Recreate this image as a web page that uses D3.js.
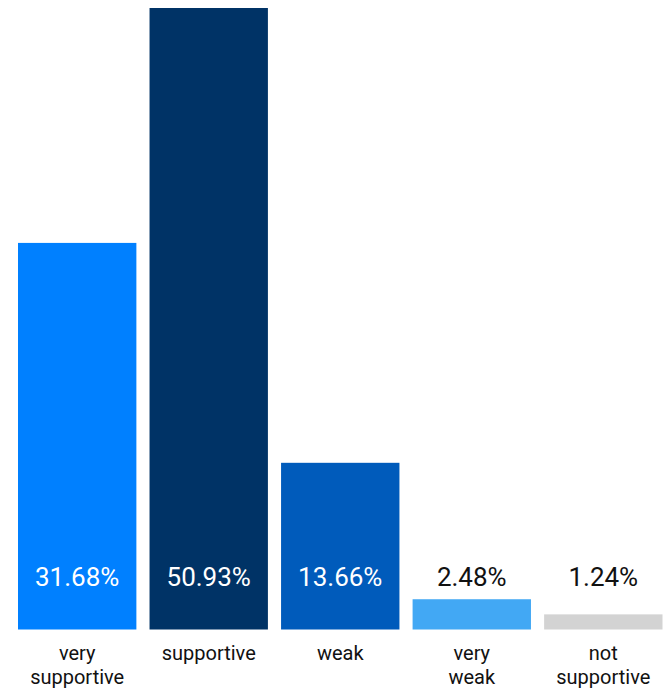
<!DOCTYPE html>
<html>
<head>
<meta charset="utf-8">
<script src="https://cdn.jsdelivr.net/npm/d3@7"></script>
<style>
  html, body { margin: 0; padding: 0; background: #fff; }
  svg { display: block; font-family: Roboto, "Noto Sans", sans-serif; }
</style>
</head>
<body>
<svg id="chart" width="664" height="688"></svg>
<script>
// Share of responses per rating
const categories = [["very", "supportive"], ["supportive"], ["weak"], ["very", "weak"], ["not", "supportive"]];
const values = [31.68, 50.93, 13.66, 2.48, 1.24];
const colors = ["#0080ff", "#003366", "#005bbb", "#42a8f4", "#d3d3d3"];
const labelColors = ["#ffffff", "#ffffff", "#ffffff", "#111111", "#111111"];

const svg = d3.select("#chart");
const baseline = 629.5;

const x = d3.scaleBand()
  .domain(d3.range(values.length))
  .range([18, 662.5])
  .paddingInner(0.1)
  .paddingOuter(0);

const y = d3.scaleLinear()
  .domain([0, d3.max(values)])
  .range([baseline, 8]);

const g = svg.append("g");

g.selectAll("rect.bar")
  .data(values)
  .join("rect")
  .attr("class", "bar")
  .attr("x", (d, i) => x(i))
  .attr("width", x.bandwidth())
  .attr("y", d => y(d))
  .attr("height", d => baseline - y(d))
  .attr("fill", (d, i) => colors[i]);

// value labels sit at a fixed height, white inside tall bars, dark above short ones
g.selectAll("text.value")
  .data(values)
  .join("text")
  .attr("class", "value")
  .attr("x", (d, i) => x(i) + x.bandwidth() / 2)
  .attr("y", 586)
  .attr("text-anchor", "middle")
  .attr("font-size", 26)
  .attr("fill", (d, i) => labelColors[i])
  .text(d => d.toFixed(2) + "%");

// category labels below the baseline
const cat = g.selectAll("text.cat")
  .data(categories)
  .join("text")
  .attr("class", "cat")
  .attr("text-anchor", "middle")
  .attr("font-size", 20)
  .attr("fill", "#111111");

cat.selectAll("tspan")
  .data((d, i) => d.map(line => ({ line, i })))
  .join("tspan")
  .attr("x", d => x(d.i) + x.bandwidth() / 2)
  .attr("y", (d, j) => 660 + j * 23.5)
  .text(d => d.line);
</script>
</body>
</html>
